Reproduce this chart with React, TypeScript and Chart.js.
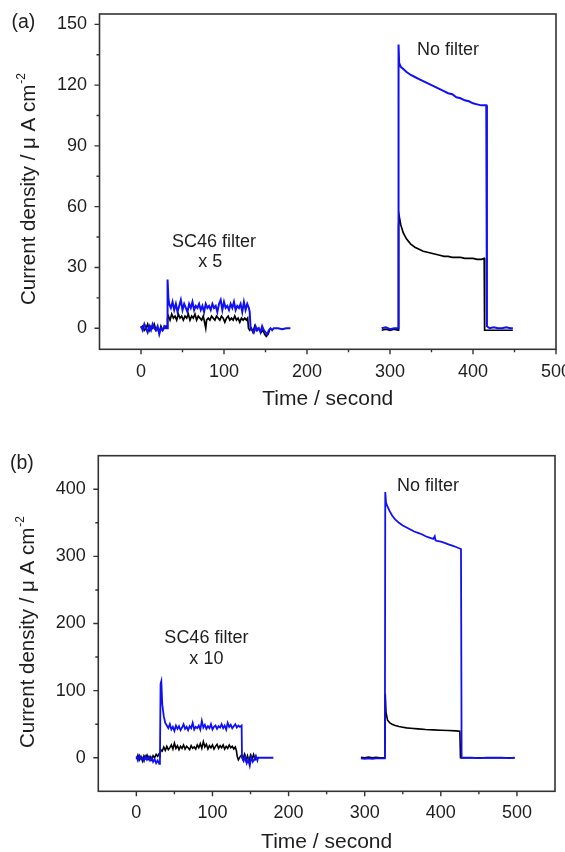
import React, { useEffect, useRef } from 'react';
import { Chart, registerables } from 'chart.js';

Chart.register(...registerables);

const FONT = '"Liberation Sans", Arial, Helvetica, sans-serif';
const INK = '#1e1e1e';
const AXIS = '#333333';
const BLUE = '#1010f2';
const BLACK = '#000000';

type Pair = [number, number];

// ---------- Panel (a) ----------
const A_X_MAJOR = [0, 100, 200, 300, 400, 500];
const A_X_MINOR = [50, 150, 250, 350, 450];
const A_Y_MAJOR = [0, 30, 60, 90, 120, 150];
const A_Y_MINOR = [15, 45, 75, 105, 135];

const A_BLUE_1: Pair[] = [[0,1],[2,-1],[4,2],[6,0],[8,-2],[10,1],[12,-1],[14,2],[16,0],[18,-1],[20,1],[22,-3],[24,0],[26,-1],[28,1],[30,0],[31.5,0],[32,24],[33,15],[34,12],[36,10],[38,13],[40,9],[42,12],[44,8],[46,11],[48,14],[50,9],[52,12],[54,10],[56,8],[58,12],[60,10],[62,13],[64,9],[66,11],[68,10],[70,12],[72,9],[74,11],[76,8],[78,12],[80,10],[82,11],[84,9],[86,12],[88,10],[90,11],[92,8],[94,12],[96,14],[98,9],[100,13],[102,10],[104,11],[106,9],[108,12],[110,10],[112,13],[114,9],[116,11],[118,10],[120,12],[122,8],[124,13],[126,9],[128,12],[130,10],[131,8],[132,0],[134,-1],[136,-2],[138,1],[140,-1],[142,0],[144,-2],[146,1],[148,-1],[150,-2],[152,-3],[154,-1],[156,0],[158,-1],[160,0],[165,0],[170,-0.5],[175,0],[180,0]];
const A_BLACK_1: Pair[] = [[0,0],[2,1],[4,-1],[6,0],[8,2],[10,-1],[12,1],[14,0],[16,2],[18,-1],[20,0],[22,-2],[24,1],[26,-1],[28,0],[30,1],[31.5,0],[32,5],[33,6],[35,4],[37,7],[39,5],[41,6],[43,4],[45,7],[47,5],[49,6],[51,4],[53,6],[55,5],[57,7],[59,4],[61,6],[63,5],[65,7],[67,4],[69,6],[71,5],[73,4],[75,6],[77,2],[78,0],[79,4],[81,5],[83,4],[85,6],[87,5],[89,4],[91,6],[93,5],[95,4],[97,6],[99,5],[101,3],[103,5],[105,6],[107,4],[109,5],[111,4],[113,6],[115,4],[117,5],[119,3],[121,5],[123,4],[125,5],[127,4],[128.5,5],[129.5,0],[131,-1],[133,0],[135,-2],[137,1],[139,-1],[141,0],[143,-1],[145,-2],[147,-1],[149,-3],[151,-4],[153,-3],[155,-1]];
const A_BLUE_2: Pair[] = [[290,0],[295,0.5],[300,-0.5],[305,0],[309.8,0],[310.3,140],[311,131],[313,129],[316,128],[320,126.5],[325,125],[330,124],[335,123],[340,122],[345,121],[350,120],[355,119],[360,118],[365,117],[370,116],[375,115.5],[380,114],[385,113.5],[390,112.5],[395,112],[400,111],[405,110.5],[410,110],[416,110],[416.8,1],[420,0],[425,0.5],[430,0],[435,0],[440,0.5],[445,0],[448,0]];
const A_BLACK_2: Pair[] = [[290,-1],[295,-0.5],[300,-1],[305,-0.5],[309.8,-1],[310.3,50],[311,55.5],[313,51],[316,47],[320,44],[325,41.5],[330,40],[335,39],[340,38],[345,37.5],[350,37],[355,36.5],[360,36],[365,35.5],[370,35.5],[375,35],[380,35],[385,35],[390,34.5],[395,34.5],[400,34.5],[405,34],[410,34],[413.5,34.5],[414,-1],[420,-1],[430,-1],[440,-1],[448,-1]];
const A_NOTES = [
  { text: 'SC46 filter', x: 88, y: 40 },
  { text: 'x 5', x: 83.5, y: 30 },
  { text: 'No filter', x: 370, y: 135 },
];

// ---------- Panel (b) ----------
const B_X_MAJOR = [0, 100, 200, 300, 400, 500];
const B_X_MINOR = [50, 150, 250, 350, 450];
const B_Y_MAJOR = [0, 100, 200, 300, 400];
const B_Y_MINOR = [50, 150, 250, 350];

const B_BLUE_1: Pair[] = [[0,2],[2,-4],[4,3],[6,-2],[8,0],[10,-5],[12,2],[14,-3],[16,1],[18,-4],[20,0],[22,-6],[24,-2],[26,-8],[28,-4],[30,-9],[31,-3],[31.8,110],[32.8,114],[34,80],[36,62],[38,52],[40,48],[42,44],[44,50],[46,42],[48,46],[50,40],[52,48],[54,43],[56,47],[58,41],[60,45],[62,50],[64,43],[66,46],[68,41],[70,47],[72,44],[74,52],[76,42],[78,46],[80,44],[82,48],[84,42],[86,55],[88,45],[90,49],[92,43],[94,47],[96,44],[98,50],[100,42],[102,46],[104,48],[106,43],[108,47],[110,45],[112,50],[114,44],[116,48],[118,42],[120,52],[122,46],[124,49],[126,44],[128,47],[130,50],[132,45],[134,48],[136,46],[138.3,48],[138.8,0],[141,-5],[143,2],[145,-8],[147,-3],[149,-12],[151,1],[153,-6],[155,-2],[157,3],[159,-4],[160,0],[165,0],[170,0],[175,0],[180,0]];
const B_BLACK_1: Pair[] = [[0,-2],[2,4],[4,-3],[6,2],[8,-5],[10,3],[12,-1],[14,4],[16,-2],[18,2],[20,-3],[22,3],[24,0],[26,5],[28,2],[30,6],[31,4],[32,12],[34,10],[36,16],[38,11],[40,17],[42,12],[44,15],[46,19],[48,13],[50,22],[52,14],[54,18],[56,12],[58,17],[60,14],[62,19],[64,13],[66,17],[68,15],[70,12],[72,18],[74,14],[76,16],[78,13],[80,19],[82,15],[84,21],[86,14],[88,24],[90,16],[92,20],[94,13],[96,18],[98,15],[100,19],[102,13],[104,17],[106,20],[108,14],[110,18],[112,15],[114,19],[116,13],[118,17],[120,14],[122,19],[124,15],[126,17],[128,13],[130,16],[131.5,10],[132.5,2],[134,-3],[136,1],[138,4],[140,-2],[142,5],[144,-4],[146,3],[148,-5],[150,4],[152,-2],[154,5],[156,-3],[158,0]];
const B_BLUE_2: Pair[] = [[295,-1],[300,-1.5],[305,-1],[310,-1.5],[315,-1],[320,-1],[326.5,-1],[327,396],[328,380],[330,374],[333,367],[336,361],[340,355],[345,350],[350,346],[355,343],[360,340],[365,337],[370,335],[375,333],[380,330],[385,328],[390,326],[392,330],[393,324],[395,323],[400,322],[405,320],[410,318],[415,316],[420,314],[426.5,311],[427.3,0],[430,0],[440,0],[450,-0.5],[460,0],[470,0],[480,0],[490,-0.5],[497,0]];
const B_BLACK_2: Pair[] = [[295,0.5],[300,0],[305,1],[310,0],[315,0.5],[320,0],[326.5,0],[327,95],[328,68],[330,56],[333,52],[336,50],[340,48],[345,46.5],[350,45.5],[355,44.5],[360,44],[370,43],[380,42],[390,41.5],[400,41],[410,40.5],[420,40],[425,39.5],[425.8,0],[430,0],[440,0],[450,0],[460,0],[470,0],[480,0],[490,0],[497,0]];
const B_NOTES = [
  { text: 'SC46 filter', x: 92, y: 171 },
  { text: 'x 10', x: 92, y: 139 },
  { text: 'No filter', x: 383, y: 398 },
];

const X_TITLE = 'Time / second';
const Y_TITLE_MAIN = 'Current density / \u03bc A cm';
const Y_TITLE_SUP = '-2';

const toXY = (arr: Pair[]) => arr.map(([x, y]) => ({ x, y }));

interface PanelCfg {
  width: number;
  height: number;
  padTop: number;
  padRight: number;
  yWidth: number;
  xHeight: number;
  xMin: number;
  xMax: number;
  yMin: number;
  yMax: number;
  xMajor: number[];
  xMinor: number[];
  yMajor: number[];
  yMinor: number[];
  xLabelPad: number;
  yLabelPad: number;
  xTitlePad: number;
  xTitleLH: number;
  label: string;
  labelX: number;
  labelY: number;
  yTitleX: number;
  yTitleY: number;
  notes: { text: string; x: number; y: number }[];
  series: { data: Pair[]; color: string; width: number }[];
}

function makeDeco(cfg: PanelCfg) {
  return {
    id: 'deco',
    afterDraw(chart: any) {
      const { ctx, chartArea: a } = chart;
      const xs = chart.scales.x;
      const ys = chart.scales.y;
      ctx.save();
      ctx.strokeStyle = AXIS;
      ctx.lineWidth = 1.6;
      ctx.strokeRect(a.left, a.top, a.right - a.left, a.bottom - a.top);
      ctx.lineWidth = 1.4;
      ctx.beginPath();
      cfg.xMajor.forEach((v) => { const p = xs.getPixelForValue(v); ctx.moveTo(p, a.bottom); ctx.lineTo(p, a.bottom + 5); });
      cfg.xMinor.forEach((v) => { const p = xs.getPixelForValue(v); ctx.moveTo(p, a.bottom); ctx.lineTo(p, a.bottom + 3); });
      cfg.yMajor.forEach((v) => { const p = ys.getPixelForValue(v); ctx.moveTo(a.left, p); ctx.lineTo(a.left - 5, p); });
      cfg.yMinor.forEach((v) => { const p = ys.getPixelForValue(v); ctx.moveTo(a.left, p); ctx.lineTo(a.left - 3, p); });
      ctx.stroke();

      ctx.fillStyle = INK;
      ctx.font = `18px ${FONT}`;
      ctx.textAlign = 'center';
      ctx.textBaseline = 'alphabetic';
      cfg.notes.forEach((n) => ctx.fillText(n.text, xs.getPixelForValue(n.x), ys.getPixelForValue(n.y)));

      ctx.textAlign = 'left';
      ctx.font = `19.5px ${FONT}`;
      ctx.fillText(cfg.label, cfg.labelX, cfg.labelY);

      ctx.translate(cfg.yTitleX, cfg.yTitleY);
      ctx.rotate(-Math.PI / 2);
      ctx.font = `20.5px ${FONT}`;
      ctx.fillText(Y_TITLE_MAIN, 0, 0);
      const w = ctx.measureText(Y_TITLE_MAIN).width;
      ctx.font = `12px ${FONT}`;
      ctx.fillText(Y_TITLE_SUP, w + 1, -10);
      ctx.restore();
    },
  };
}

function Panel({ cfg }: { cfg: PanelCfg }) {
  const ref = useRef<HTMLCanvasElement | null>(null);
  useEffect(() => {
    if (!ref.current) return;
    const chart = new Chart(ref.current, {
      type: 'line',
      data: {
        datasets: cfg.series.map((s) => ({
          data: toXY(s.data),
          borderColor: s.color,
          backgroundColor: s.color,
          borderWidth: s.width,
          pointRadius: 0,
          tension: 0,
          fill: false,
        })),
      },
      options: {
        responsive: false,
        animation: false,
        events: [],
        layout: { padding: { top: cfg.padTop, right: cfg.padRight, left: 0, bottom: 0 } },
        plugins: { legend: { display: false }, tooltip: { enabled: false } },
        scales: {
          x: {
            type: 'linear',
            min: cfg.xMin,
            max: cfg.xMax,
            afterBuildTicks: (s: any) => { s.ticks = cfg.xMajor.map((v) => ({ value: v })); },
            afterFit: (s: any) => { s.height = cfg.xHeight; s.paddingLeft = 0; s.paddingRight = 0; },
            grid: { display: false, drawTicks: false, tickLength: 0 },
            border: { display: false },
            ticks: { padding: cfg.xLabelPad, color: INK, font: { family: FONT, size: 18 }, maxRotation: 0, autoSkip: false },
            title: {
              display: true,
              text: X_TITLE,
              color: INK,
              font: { family: FONT, size: 21, lineHeight: cfg.xTitleLH },
              padding: { top: 0, bottom: cfg.xTitlePad },
            },
          },
          y: {
            type: 'linear',
            min: cfg.yMin,
            max: cfg.yMax,
            afterBuildTicks: (s: any) => { s.ticks = cfg.yMajor.map((v) => ({ value: v })); },
            afterFit: (s: any) => { s.width = cfg.yWidth; s.paddingTop = 0; s.paddingBottom = 0; },
            grid: { display: false, drawTicks: false, tickLength: 0 },
            border: { display: false },
            ticks: { padding: cfg.yLabelPad, color: INK, font: { family: FONT, size: 18 }, autoSkip: false },
          },
        },
      },
      plugins: [makeDeco(cfg)],
    } as any);
    return () => chart.destroy();
  }, [cfg]);
  return <canvas ref={ref} width={cfg.width} height={cfg.height} style={{ display: 'block' }} />;
}

const PANEL_A: PanelCfg = {
  width: 565, height: 420, padTop: 14, padRight: 9, yWidth: 99.5, xHeight: 70.7,
  xMin: -50, xMax: 500, yMin: -10.4, yMax: 155.1,
  xMajor: A_X_MAJOR, xMinor: A_X_MINOR, yMajor: A_Y_MAJOR, yMinor: A_Y_MINOR,
  xLabelPad: 11.6, yLabelPad: 12.5, xTitlePad: 8, xTitleLH: 1.2,
  label: '(a)', labelX: 11.5, labelY: 27.7,
  yTitleX: 35, yTitleY: 305,
  notes: A_NOTES,
  series: [
    { data: A_BLUE_1, color: BLUE, width: 2 },
    { data: A_BLUE_2, color: BLUE, width: 2 },
    { data: A_BLACK_1, color: BLACK, width: 1.7 },
    { data: A_BLACK_2, color: BLACK, width: 1.7 },
  ],
};

const PANEL_B: PanelCfg = {
  width: 565, height: 432, padTop: 35.7, padRight: 10, yWidth: 98.3, xHeight: 60.7,
  xMin: -50, xMax: 550, yMin: -50, yMax: 450,
  xMajor: B_X_MAJOR, xMinor: B_X_MINOR, yMajor: B_Y_MAJOR, yMinor: B_Y_MINOR,
  xLabelPad: 10.6, yLabelPad: 12.5, xTitlePad: 0, xTitleLH: 0.9,
  label: '(b)', labelX: 10, labelY: 49.3,
  yTitleX: 34, yTitleY: 328,
  notes: B_NOTES,
  series: [
    { data: B_BLUE_1, color: BLUE, width: 1.8 },
    { data: B_BLUE_2, color: BLUE, width: 1.8 },
    { data: B_BLACK_1, color: BLACK, width: 1.6 },
    { data: B_BLACK_2, color: BLACK, width: 1.6 },
  ],
};

export default function App() {
  return (
    <div style={{ position: 'absolute', left: 0, top: 0, width: 565, height: 852, background: '#ffffff', overflow: 'hidden' }}>
      <div style={{ position: 'absolute', left: 0, top: 0 }}>
        <Panel cfg={PANEL_A} />
      </div>
      <div style={{ position: 'absolute', left: 0, top: 420 }}>
        <Panel cfg={PANEL_B} />
      </div>
    </div>
  );
}
